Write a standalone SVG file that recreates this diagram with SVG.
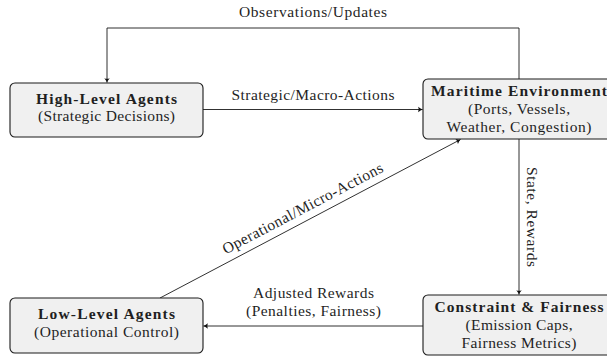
<svg xmlns="http://www.w3.org/2000/svg" width="607" height="358" viewBox="0 0 607 358">
<defs>
<marker id="ah" markerWidth="8" markerHeight="8" refX="5.5" refY="4" orient="auto" markerUnits="userSpaceOnUse" overflow="visible"><path d="M1.2,1.3 Q3.6,3.4 5.8,4 Q3.6,4.6 1.2,6.7 Q2.2,4 1.2,1.3Z" fill="#111"/></marker>
<style>
.box{fill:#f0f0f0;stroke:#1a1a1a;stroke-width:1.1}
.t{font-family:"Liberation Serif","Times New Roman",serif;font-size:15.5px;fill:#1f1f1f;text-anchor:middle}
.b{font-weight:bold}
.e{fill:none;stroke:#1a1a1a;stroke-width:0.9}
</style>
</defs>
<g id="connectors">
<path class="e" d="M519,79 V28 H107 V82.5" marker-end="url(#ah)"/>
<path class="e" d="M203,109.5 H422.5" marker-end="url(#ah)"/>
<path class="e" d="M519,139 V294.5" marker-end="url(#ah)"/>
<path class="e" d="M423,326 H203.5" marker-end="url(#ah)"/>
<path class="e" d="M160,298 L460.5,139.5" marker-end="url(#ah)"/>
<text class="t" x="313" y="17" textLength="148">Observations/Updates</text>
<text class="t" x="313" y="100" textLength="163">Strategic/Macro-Actions</text>
<text class="t" transform="translate(527,217) rotate(90)" x="0" y="0" textLength="100">State, Rewards</text>
<text class="t" transform="translate(310.5,219) rotate(-27.7)" x="-2" y="-8" textLength="179">Operational/Micro-Actions</text>
<text class="t" x="313.5" y="298" textLength="121">Adjusted Rewards</text>
<text class="t" x="313.5" y="315.5" textLength="135">(Penalties, Fairness)</text>
</g>
<g id="high">
<rect class="box" x="10" y="83" width="193" height="54" rx="5"/>
<text class="t b" x="106.5" y="104" textLength="141">High-Level Agents</text>
<text class="t" x="106.5" y="121" textLength="137">(Strategic Decisions)</text>
</g>
<g id="maritime">
<rect class="box" x="423" y="79" width="192" height="60" rx="5"/>
<text class="t b" x="519" y="95.5" textLength="176">Maritime Environment</text>
<text class="t" x="519" y="113.5" textLength="102">(Ports, Vessels,</text>
<text class="t" x="519" y="131.5" textLength="145">Weather, Congestion)</text>
</g>
<g id="constraint">
<rect class="box" x="423" y="295" width="192" height="60" rx="5"/>
<text class="t b" x="519" y="311.5" textLength="169">Constraint &amp; Fairness</text>
<text class="t" x="519" y="329.5" textLength="107">(Emission Caps,</text>
<text class="t" x="519" y="347.5" textLength="115">Fairness Metrics)</text>
</g>
<g id="low">
<rect class="box" x="10" y="298" width="193" height="55" rx="5"/>
<text class="t b" x="106.5" y="319" textLength="137">Low-Level Agents</text>
<text class="t" x="106.5" y="337" textLength="145">(Operational Control)</text>
</g>
</svg>
